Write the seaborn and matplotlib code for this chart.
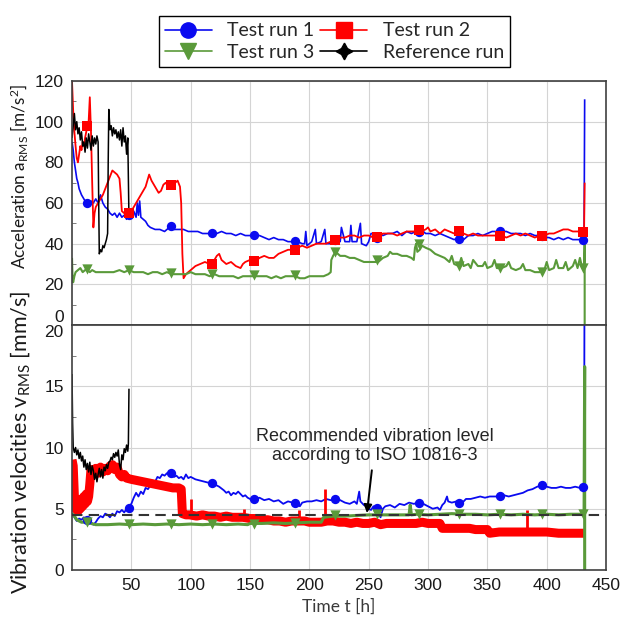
import pandas as pd
import seaborn as sns
import matplotlib.pyplot as plt
from matplotlib.lines import Line2D

# ---- data (hours, value) ----
blue_top = [(0, 90), (1, 86), (2, 80), (3, 76), (4, 72), (5, 70), (6, 67), (8, 64), (10, 62), (12, 60),
            (14, 59), (16, 61), (18, 60), (20, 62), (22, 60), (24, 64), (26, 60), (28, 58), (30, 57),
            (32, 55), (34, 54), (36, 55), (38, 53), (40, 55), (42, 53), (44, 54), (46, 52), (48, 55),
            (50, 54), (52, 56), (54, 53), (55, 60), (56, 54), (57, 61), (58, 53), (60, 52), (62, 51),
            (64, 49), (66, 48), (70, 47), (74, 47), (78, 46), (82, 48), (86, 47), (90, 47), (94, 47),
            (98, 46), (102, 46), (106, 46), (110, 45), (114, 45), (118, 45), (122, 45), (126, 46),
            (130, 45), (134, 45), (138, 44), (142, 45), (146, 44), (150, 44), (154, 44), (158, 44),
            (162, 43), (166, 42), (170, 43), (174, 42), (178, 42), (182, 41), (186, 41), (190, 41),
            (194, 40), (196, 40), (197, 46), (198, 39), (202, 41), (205, 47), (206, 40), (210, 41),
            (213, 47), (214, 40), (218, 40), (222, 42), (226, 41), (227, 48), (230, 41), (234, 41),
            (235, 49), (236, 41), (240, 41), (243, 50), (244, 40), (248, 39), (250, 41), (252, 45),
            (254, 45), (258, 45), (262, 44), (266, 45), (270, 45), (274, 46), (278, 44), (282, 46),
            (286, 45), (290, 46), (294, 47), (298, 45), (302, 45), (306, 44), (310, 45), (314, 44),
            (318, 43), (322, 42), (326, 43), (330, 42), (334, 44), (338, 44), (342, 45), (346, 44),
            (350, 45), (354, 46), (358, 46), (362, 46), (366, 46), (370, 45), (374, 45), (378, 45),
            (382, 44), (386, 45), (390, 44), (394, 44), (398, 43), (402, 43), (406, 42), (410, 43),
            (414, 42), (418, 43), (422, 42), (426, 42), (430, 42), (431.5, 42), (432, 111)]

red_top = [(0, 120), (1, 105), (2, 95), (3, 88), (4, 82), (5, 80), (6, 84), (7, 88), (8, 86), (9, 90),
           (10, 88), (11, 92), (12, 95), (13, 98), (14, 100), (15, 112), (16, 95), (17, 70), (18, 48),
           (19, 55), (20, 58), (22, 60), (24, 62), (26, 64), (28, 67), (30, 70), (32, 73), (34, 76),
           (36, 75), (38, 74), (40, 72), (41, 65), (42, 56), (44, 55), (46, 56), (48, 55), (50, 56),
           (52, 58), (54, 60), (56, 62), (58, 64), (60, 66), (62, 68), (64, 72), (65, 74), (67, 71),
           (69, 69), (71, 67), (73, 65), (75, 66), (77, 69), (79, 70), (81, 68), (83, 69), (85, 68),
           (87, 70), (89, 71), (91, 68), (92, 60), (93, 35), (94, 23), (96, 25), (98, 26), (100, 27),
           (104, 29), (108, 30), (112, 31), (116, 30), (118, 30), (120, 32), (122, 34), (124, 35),
           (126, 32), (128, 31), (130, 30), (134, 31), (138, 29), (142, 28), (144, 30), (146, 31),
           (150, 32), (154, 31), (158, 33), (162, 34), (166, 33), (170, 33), (174, 35), (178, 36),
           (182, 37), (186, 37), (190, 38), (194, 39), (198, 38), (202, 39), (206, 40), (210, 40),
           (214, 40), (218, 41), (222, 42), (226, 43), (230, 43), (234, 44), (238, 44), (242, 43),
           (246, 44), (250, 44), (254, 43), (258, 43), (262, 45), (266, 45), (270, 45), (274, 44),
           (278, 45), (282, 46), (286, 46), (290, 46), (294, 46), (298, 47), (300, 48), (302, 46),
           (306, 47), (310, 45), (314, 47), (318, 46), (322, 45), (326, 46), (330, 45), (334, 44),
           (338, 45), (342, 44), (346, 44), (350, 44), (354, 44), (358, 44), (362, 44), (366, 43),
           (370, 44), (374, 45), (378, 44), (382, 45), (386, 44), (390, 43), (394, 44), (398, 44),
           (402, 45), (406, 45), (410, 46), (414, 47), (418, 47), (422, 46), (426, 46), (430, 46),
           (431.5, 46), (432, 70)]

green_top = [(0, 33), (0.5, 22), (1, 21), (2, 24), (3, 26), (5, 27), (7, 28), (9, 26), (11, 27),
             (13, 27), (15, 26), (17, 27), (20, 26), (25, 26), (30, 26), (35, 26), (40, 27), (44, 26),
             (48, 27), (52, 26), (56, 26), (60, 26), (64, 25), (68, 26), (72, 26), (76, 25), (80, 26),
             (84, 25), (88, 25), (92, 25), (96, 25), (100, 26), (104, 25), (108, 25), (112, 25),
             (116, 24), (120, 25), (124, 24), (128, 24), (132, 24), (136, 24), (140, 23), (144, 24),
             (148, 24), (152, 24), (156, 24), (160, 24), (164, 24), (168, 23), (172, 24), (176, 23),
             (180, 24), (184, 24), (188, 24), (192, 23), (196, 23), (200, 24), (204, 24), (208, 24),
             (212, 24), (216, 25), (218, 26), (218.5, 32), (220, 34), (222, 36), (224, 35), (226, 34),
             (230, 34), (234, 33), (238, 33), (242, 32), (246, 31), (250, 31), (254, 31), (258, 31),
             (262, 33), (266, 34), (268, 36), (270, 35), (274, 35), (278, 34), (282, 34), (286, 33),
             (288, 32), (289, 38), (290, 40), (291, 36), (293, 37), (295, 39), (298, 38), (302, 37),
             (306, 35), (310, 34), (314, 33), (318, 31), (320, 34), (322, 30), (326, 29), (328, 33),
             (330, 29), (334, 30), (336, 28), (338, 32), (342, 29), (346, 29), (348, 31), (350, 28),
             (354, 29), (356, 32), (358, 28), (362, 28), (366, 29), (368, 31), (370, 28), (374, 27),
             (378, 28), (380, 30), (382, 27), (386, 27), (390, 26), (394, 26), (398, 27), (400, 31),
             (402, 27), (406, 28), (408, 32), (410, 28), (414, 28), (416, 31), (418, 27), (422, 29),
             (424, 32), (426, 28), (428, 33), (430, 28), (431.5, 28), (432, 40), (432, 0)]

black_top = [(0, 92), (1, 98), (2, 104), (3, 96), (4, 100), (5, 94), (6, 97), (7, 91), (8, 95), (9, 88),
             (10, 90), (11, 85), (12, 92), (13, 87), (14, 94), (15, 90), (16, 86), (17, 93), (18, 88),
             (19, 92), (20, 89), (21, 93), (22, 90), (22.5, 60), (23, 35), (24, 37), (25, 36), (26, 39),
             (27, 38), (28, 40), (29, 42), (30, 45), (30.5, 80), (31, 106), (32, 96), (33, 98), (34, 93),
             (35, 97), (36, 94), (37, 96), (38, 92), (39, 95), (40, 91), (41, 96), (42, 88), (43, 97),
             (44, 90), (45, 93), (46, 84), (47, 92), (48, 52)]

blue_bot = [(0, 4.6), (2, 4.3), (4, 4.0), (6, 4.2), (8, 4.1), (10, 4.3), (12, 4.0), (14, 4.2), (16, 3.9),
            (18, 3.7), (20, 3.9), (22, 4.2), (24, 4.4), (26, 4.3), (28, 4.6), (30, 4.5), (32, 4.3),
            (34, 4.6), (36, 4.4), (38, 4.8), (40, 4.7), (42, 4.9), (44, 4.7), (46, 5.0), (48, 5.2),
            (50, 5.4), (52, 5.9), (54, 6.3), (56, 6.0), (58, 6.4), (60, 6.2), (62, 6.7), (64, 6.6),
            (66, 6.9), (68, 7.3), (70, 7.2), (72, 7.6), (74, 7.5), (76, 7.8), (78, 7.7), (80, 7.9),
            (83, 8.0), (86, 7.6), (88, 7.7), (90, 7.5), (92, 7.6), (94, 7.4), (96, 7.8), (98, 7.5),
            (100, 7.6), (104, 7.4), (108, 7.3), (112, 7.2), (116, 7.1), (120, 7.0), (124, 6.8),
            (128, 6.5), (130, 6.3), (132, 6.4), (134, 6.1), (136, 6.3), (138, 6.2), (140, 6.4),
            (142, 6.2), (144, 6.0), (146, 6.1), (148, 5.9), (150, 5.8), (154, 5.8), (158, 5.9),
            (162, 5.7), (166, 5.8), (170, 5.6), (174, 5.7), (178, 5.4), (182, 5.6), (186, 5.5),
            (190, 5.4), (192, 5.2), (194, 5.5), (198, 5.6), (202, 5.6), (206, 5.7), (210, 5.6),
            (214, 5.8), (218, 5.7), (222, 5.8), (226, 5.7), (230, 5.5), (234, 5.4), (238, 5.6),
            (240, 5.4), (242, 6.4), (243, 5.6), (246, 5.3), (248, 5.2), (250, 5.0), (252, 4.9),
            (254, 5.2), (256, 5.1), (258, 4.6), (260, 4.3), (262, 5.0), (264, 5.2), (268, 5.3),
            (272, 5.1), (276, 5.4), (280, 5.3), (284, 5.5), (288, 5.4), (292, 5.5), (296, 5.4),
            (300, 5.2), (304, 5.0), (308, 5.1), (310, 4.9), (312, 5.3), (314, 5.5), (316, 6.0),
            (317, 5.6), (320, 5.5), (324, 5.6), (328, 5.4), (332, 5.8), (336, 5.8), (340, 5.9),
            (344, 6.0), (348, 5.9), (352, 6.0), (356, 6.0), (360, 6.0), (364, 6.1), (368, 6.0),
            (372, 6.1), (376, 6.2), (380, 6.3), (384, 6.5), (388, 6.6), (392, 6.8), (396, 6.9),
            (400, 6.8), (404, 6.7), (408, 6.7), (412, 6.8), (416, 6.7), (420, 6.7), (424, 6.8),
            (428, 6.7), (431.5, 6.8), (432, 30)]

# red velocity trace is a dense band; its short spikes are kept apart
red_bot = [(0, 9.0), (1, 8.5), (2, 6.0), (3, 5.0), (4, 5.5), (5, 4.8), (6, 5.6), (7, 5.0), (8, 5.8),
           (9, 5.2), (10, 6.0), (11, 5.4), (12, 6.2), (13, 5.6), (14, 6.0), (15, 7.0), (16, 8.2),
           (18, 7.8), (20, 8.3), (22, 7.9), (24, 8.4), (26, 8.0), (28, 8.3), (30, 8.1), (32, 8.5),
           (34, 8.6), (36, 8.2), (38, 8.4), (40, 7.8), (42, 7.6), (44, 7.8), (46, 7.5), (50, 7.4),
           (55, 7.3), (60, 7.2), (65, 7.1), (70, 7.0), (75, 6.9), (80, 6.8), (85, 6.7), (90, 6.7),
           (92, 6.6), (93, 4.6), (96, 4.5), (99, 4.5), (105, 4.4), (110, 4.5),
           (115, 4.4), (120, 4.4), (125, 4.3), (130, 4.4), (135, 4.3), (140, 4.3), (144, 4.3),
           (150, 4.2), (155, 4.2), (160, 4.1), (165, 4.1), (170, 4.0),
           (175, 4.0), (180, 3.9), (185, 4.0), (190, 4.0), (196, 4.0),
           (200, 3.9), (205, 3.9), (210, 3.9), (215, 4.0),
           (220, 4.0), (225, 3.9), (230, 3.9), (235, 3.8), (240, 3.9), (245, 3.8), (250, 3.8),
           (255, 3.9), (260, 3.7), (265, 3.8), (270, 3.8), (275, 3.8), (280, 3.8), (285, 3.8),
           (290, 3.8), (295, 3.9), (300, 3.8), (305, 3.8), (310, 3.8), (312, 3.4), (318, 3.4),
           (325, 3.4), (330, 3.4), (335, 3.4), (340, 3.3), (345, 3.3), (350, 3.3), (352, 3.0),
           (360, 3.1), (370, 3.1), (380, 3.1), (390, 3.1), (400, 3.1),
           (410, 3.0), (420, 3.0), (428, 3.0), (432, 3.0)]
red_spike_hours = [100, 145, 191, 213.5, 383]
red_spike_base = [4.5, 4.3, 4.0, 4.0, 3.1]
red_spike_top = [5.8, 5.0, 4.9, 6.6, 4.9]

green_bot = [(0, 4.6), (2, 4.4), (4, 4.1), (6, 4.0), (8, 3.9), (10, 3.9), (13, 3.9), (16, 3.8),
             (20, 3.7), (30, 3.7), (40, 3.75), (50, 3.7), (60, 3.75), (70, 3.7), (80, 3.75),
             (90, 3.7), (100, 3.75), (110, 3.7), (120, 3.75), (130, 3.7), (140, 3.75), (148, 3.7),
             (150, 3.8), (160, 3.8), (170, 3.85), (180, 3.8), (190, 3.85), (200, 3.9), (210, 3.9),
             (212, 4.3), (220, 4.4), (230, 4.4), (240, 4.45), (250, 4.5), (260, 4.5), (270, 4.5),
             (280, 4.5), (284, 4.5), (285, 5.3), (286, 4.5), (290, 4.55), (300, 4.5), (310, 4.55),
             (320, 4.6), (330, 4.55), (340, 4.55), (350, 4.5), (360, 4.55), (370, 4.5), (380, 4.55),
             (390, 4.5), (400, 4.55), (410, 4.5), (420, 4.55), (431.5, 4.55), (432, 16.6), (432, 0)]

black_bot = [(0, 16), (0.5, 12), (1, 10), (2, 9.6), (3, 10.0), (4, 9.4), (5, 9.8), (6, 9.1), (7, 9.6),
             (8, 8.9), (9, 9.3), (10, 8.4), (11, 9.0), (12, 8.2), (13, 8.7), (14, 8.0), (15, 8.8),
             (16, 7.8), (17, 8.5), (18, 8.1), (19, 7.4), (20, 7.9), (21, 7.2), (22, 7.8), (23, 8.3),
             (24, 7.6), (25, 8.2), (26, 7.5), (27, 8.4), (28, 8.1), (29, 8.6), (30, 8.3), (31, 8.8),
             (32, 8.9), (33, 9.2), (34, 9.0), (35, 9.5), (36, 9.2), (37, 9.6), (38, 9.3), (39, 9.8),
             (40, 8.6), (41, 8.2), (42, 9.4), (43, 9.0), (44, 9.9), (45, 9.6), (46, 10.2), (47, 9.7),
             (47.5, 10.3), (48, 14.8)]

# marker positions (every ~35 h) and the values at them
marker_hours = [13, 48, 83, 118, 153, 188, 222, 257, 292, 326, 361, 396, 431]
blue_top_marks = [60, 54, 48.5, 45.2, 44.3, 41.3, 41.7, 43, 45.5, 42.5, 46.3, 44, 42]
red_top_marks = [98, 55, 69, 30, 31.5, 37, 42, 43.3, 46.5, 46, 43.6, 43.6, 45.7]
green_top_marks = [27.7, 26.9, 25.6, 25, 24.4, 24.4, 36, 31.8, 40, 29, 28, 26, 28]
blue_bot_marks = [4.1, 5.1, 7.9, 7.1, 5.8, 5.5, 5.8, 5.1, 5.5, 5.5, 6.0, 6.9, 6.8]
green_bot_marks = [3.95, 3.75, 3.75, 3.75, 3.75, 3.85, 4.5, 4.55, 4.55, 4.6, 4.55, 4.55, 4.55]

iso_limit = 4.5
x_ticks = [50, 100, 150, 200, 250, 300, 350, 400, 450]
acc_ticks = [0, 20, 40, 60, 80, 100, 120]
vel_ticks = [0, 5, 10, 15, 20]

BLUE = "#0a0af0"
RED = "#ff0000"
GREEN = "#5a9a3a"
BLACK = "#000000"


def frame(pairs):
    return pd.DataFrame(pairs, columns=["t", "v"])


def draw(ax, pairs, color, lw):
    df = frame(pairs)
    sns.lineplot(data=df, x="t", y="v", ax=ax, color=color, linewidth=lw,
                 estimator=None, sort=False, legend=False)
    ax.lines[-1].set_solid_capstyle("butt")


def marks(ax, vals, color, marker, size):
    df = pd.DataFrame({"t": marker_hours, "v": vals})
    sns.scatterplot(data=df, x="t", y="v", ax=ax, color=color, marker=marker, s=size,
                    edgecolor=color, linewidth=0, legend=False, zorder=5)


def main():
    sns.set_style("white")
    plt.rcParams["font.family"] = ["Liberation Sans", "DejaVu Sans"]
    plt.rcParams["mathtext.default"] = "regular"

    fig = plt.figure(figsize=(6.24, 6.23), dpi=100)
    ax1 = fig.add_axes([0.1154, 0.4783, 0.8558, 0.3917])
    ax2 = fig.add_axes([0.1154, 0.0851, 0.8558, 0.3932])

    # top panel: acceleration
    draw(ax1, blue_top, BLUE, 1.2)
    draw(ax1, red_top, RED, 1.3)
    draw(ax1, green_top, GREEN, 1.5)
    draw(ax1, black_top, BLACK, 1.1)
    marks(ax1, blue_top_marks, BLUE, "o", 45)
    marks(ax1, red_top_marks, RED, "s", 45)
    marks(ax1, green_top_marks, GREEN, "v", 55)

    # bottom panel: vibration velocity
    draw(ax2, blue_bot, BLUE, 1.3)
    draw(ax2, red_bot, RED, 6.5)
    ax2.vlines(red_spike_hours, red_spike_base, red_spike_top, color=RED, lw=2)
    draw(ax2, green_bot, GREEN, 2.2)
    draw(ax2, black_bot, BLACK, 1.1)
    marks(ax2, blue_bot_marks, BLUE, "o", 45)
    marks(ax2, green_bot_marks, GREEN, "v", 55)
    ax2.axhline(iso_limit, color="#333333", lw=1.5, ls=(0, (5, 3)), zorder=6)

    for ax in (ax1, ax2):
        ax.set_xlim(0, 450)
        ax.set_xticks(x_ticks)
        ax.grid(True, color="#d4d4d4", lw=0.8)
        ax.set_axisbelow(True)
        for sp in ax.spines.values():
            sp.set_color("#404040")
            sp.set_linewidth(1.2)
        ax.tick_params(axis="both", which="major", length=0, labelsize=12.5, pad=6,
                       labelcolor="#1a1a1a")
        ax.tick_params(axis="y", which="minor", left=True, length=3, direction="in", color="#666666")

    ax1.set_ylim(0, 120)
    ax1.set_yticks(acc_ticks)
    ax1.set_yticks([10, 30, 50, 70, 90, 110], minor=True)
    ax1.tick_params(axis="x", labelbottom=False)

    ax2.set_ylim(0, 20)
    ax2.set_yticks(vel_ticks)
    ax2.set_yticks([2.5, 7.5, 12.5, 17.5], minor=True)

    ax1.set_xlabel("")
    ax1.set_ylabel("Acceleration a$_{RMS}$ [m/s$^{2}$]", family="Lato", fontsize=12.3, color="#1a1a1a")
    ax1.yaxis.set_label_coords(-0.078, 0.607)
    ax2.set_ylabel("Vibration velocities v$_{RMS}$ [mm/s]", family="Lato", fontsize=15.5, color="#1a1a1a")
    ax2.yaxis.set_label_coords(-0.074, 0.52)
    ax2.set_xlabel("Time t [h]", family="Lato", fontsize=12.5, color="#3a3a3a", labelpad=4)

    ax2.annotate("Recommended vibration level\naccording to ISO 10816-3",
                 xy=(248.5, 4.65), xytext=(255, 10.1), ha="center", va="center",
                 fontsize=13, linespacing=1.15, zorder=8,
                 arrowprops=dict(arrowstyle="-|>", color="black", lw=1.4, mutation_scale=12,
                                 shrinkA=2, shrinkB=0))

    # legend: two rows, filled column-wise so order is run1, run3, run2, reference
    handles = [
        Line2D([], [], color=BLUE, lw=1.2, marker="o", markersize=11),
        Line2D([], [], color=GREEN, lw=1.2, marker="v", markersize=12),
        Line2D([], [], color=RED, lw=1.2, marker="s", markersize=11),
        Line2D([], [], color=BLACK, lw=1.2, marker=(4, 1, 0), markersize=12),
    ]
    labels = ["Test run 1", "Test run 3", "Test run 2", "Reference run"]
    leg = fig.legend(handles, labels, ncol=2, loc="center", bbox_to_anchor=(0.536, 0.933),
                     frameon=True, fancybox=False, edgecolor="black", framealpha=1,
                     prop={"family": "Lato", "size": 14}, handlelength=2.4,
                     handletextpad=0.8, columnspacing=0.3, labelspacing=0.25, borderpad=0.3)
    leg.get_frame().set_linewidth(1.0)

    # the panels share an edge: lift the top "0" and drop the bottom "20"
    fig.canvas.draw()
    for lab in ax1.get_yticklabels():
        if lab.get_text() == "0":
            lab.set_verticalalignment("bottom")
    for lab in ax2.get_yticklabels():
        if lab.get_text() == "20":
            lab.set_verticalalignment("top")

    fig.savefig("out.png", dpi=100)


if __name__ == "__main__":
    main()
